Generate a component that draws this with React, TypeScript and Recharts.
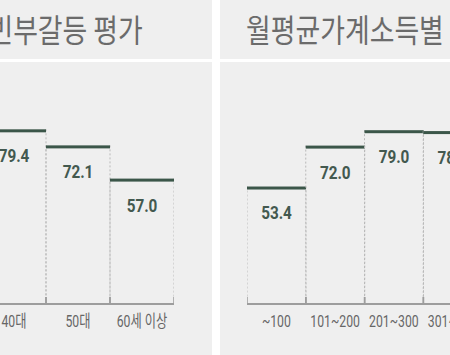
import { Bar, BarChart, LabelList, XAxis, YAxis } from "recharts";

const ageGroups = ["40대", "50대", "60세 이상"];
const ageScores = [79.4, 72.1, 57.0];

const incomeGroups = ["~100", "101~200", "201~300", "301~400"];
const incomeScores = [53.4, 72.0, 79.0, 78.6];

const COLORS = {
  bg: "#efefef",
  step: "#3b5649",
  value: "#43594f",
  grid: "#b9b9b9",
  axis: "#9d9d9d",
  tick: "#666666",
  title: "#6b6b6b",
};

const FONT = "Roboto, 'Noto Sans CJK KR', sans-serif";
const PLOT_TOP = 84;
const PLOT_H = 220;
const AXIS_H = 40;

function StepShape(props: any) {
  const { x, y, width, height } = props;
  const base = y + height;
  return (
    <g>
      {[x, x + width].map((ex, i) => (
        <g key={i}>
          <line x1={ex} y1={y} x2={ex} y2={base - 7} stroke={COLORS.grid} strokeWidth={1} strokeDasharray="2 2" />
          <line x1={ex} y1={base - 7} x2={ex} y2={base} stroke={COLORS.axis} strokeWidth={1.5} />
        </g>
      ))}
      <rect x={x} y={y} width={width} height={3} fill={COLORS.step} />
    </g>
  );
}

function ValueLabel(props: any) {
  const { x, y, width, value } = props;
  return (
    <text
      transform={`translate(${x + width / 2},${y + 27}) scale(0.85,1)`}
      textAnchor="middle"
      dominantBaseline="central"
      fontFamily={FONT}
      fontWeight="bold"
      fontSize={18}
      fill={COLORS.value}
    >
      {Number(value).toFixed(1)}
    </text>
  );
}

function CategoryTick(props: any) {
  const { x, y, payload } = props;
  return (
    <text
      transform={`translate(${x},${y + 17}) scale(0.72,1)`}
      textAnchor="middle"
      dominantBaseline="central"
      fontFamily={FONT}
      fontWeight={400}
      fontSize={17}
      fill={COLORS.tick}
    >
      {payload.value}
    </text>
  );
}

function StepChart({ data, width, left }: { data: { name: string; value: number }[]; width: number; left: number }) {
  return (
    <div style={{ position: "absolute", left, top: PLOT_TOP }}>
      <BarChart
        width={width}
        height={PLOT_H + AXIS_H}
        data={data}
        margin={{ top: 0, right: 0, bottom: 0, left: 0 }}
        barCategoryGap={0}
        barGap={0}
      >
        <YAxis hide domain={[0, 100]} />
        <XAxis
          dataKey="name"
          height={AXIS_H}
          tickLine={false}
          tickSize={0}
          tickMargin={0}
          axisLine={{ stroke: COLORS.axis, strokeWidth: 2 }}
          tick={<CategoryTick />}
          interval={0}
        />
        <Bar dataKey="value" shape={<StepShape />} isAnimationActive={false}>
          <LabelList dataKey="value" content={<ValueLabel />} />
        </Bar>
      </BarChart>
    </div>
  );
}

const panel = (left: number, top: number, width: number, height: number) => ({
  position: "absolute" as const,
  left,
  top,
  width,
  height,
  background: COLORS.bg,
});

const titleStyle = {
  position: "absolute" as const,
  top: 8,
  fontFamily: "'Noto Sans CJK KR', sans-serif",
  fontSize: 32,
  lineHeight: "40px",
  color: COLORS.title,
  whiteSpace: "nowrap" as const,
};

export default function App() {
  const ageData = ageGroups.map((name, i) => ({ name, value: ageScores[i] }));
  const incomeData = incomeGroups.map((name, i) => ({ name, value: incomeScores[i] }));

  return (
    <div
      style={{
        position: "absolute",
        left: 0,
        top: 0,
        width: 450,
        height: 355,
        overflow: "hidden",
        background: "#ffffff",
      }}
    >
      <div style={panel(0, 0, 212, 59)} />
      <div style={panel(220, 0, 230, 59)} />
      <div style={panel(0, 62, 212, 293)} />
      <div style={panel(220, 62, 230, 293)} />

      <div style={{ position: "absolute", left: 0, top: 0, width: 212, height: 59, overflow: "hidden" }}>
        <div style={{ ...titleStyle, right: 212 - 143, transform: "scaleX(0.84)", transformOrigin: "right center" }}>
          빈부갈등 평가
        </div>
      </div>
      <div style={{ ...titleStyle, left: 246, transform: "scaleX(0.84)", transformOrigin: "left center" }}>
        월평균가계소득별
      </div>

      <div style={{ position: "absolute", left: 0, top: 0, width: 212, height: 355, overflow: "hidden" }}>
        <StepChart data={ageData} width={192} left={-18} />
      </div>
      <StepChart data={incomeData} width={235} left={247} />
    </div>
  );
}
